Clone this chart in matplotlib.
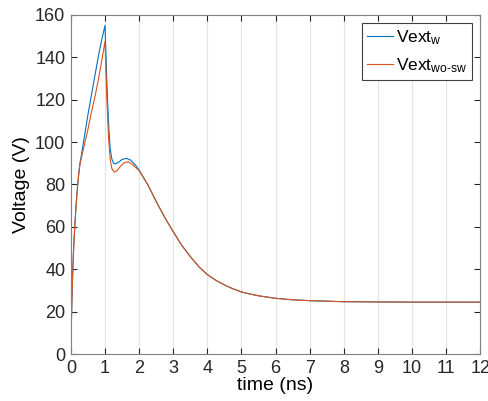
import matplotlib
matplotlib.use("Agg")
import matplotlib.pyplot as plt

plt.rcParams['font.family'] = ['Liberation Sans', 'DejaVu Sans']
plt.rcParams['mathtext.fontset'] = 'custom'
plt.rcParams['mathtext.rm'] = 'Liberation Sans'
plt.rcParams['mathtext.it'] = 'Liberation Sans'

# time (ns) and voltage (V)
t_w = [0, 0.01, 0.03, 0.05, 0.08, 0.12, 0.16, 0.2, 0.24, 0.27, 0.3, 0.4, 0.5,
       0.6, 0.7, 0.8, 0.9, 1.0, 1.05, 1.1, 1.15, 1.2, 1.25, 1.3, 1.4, 1.5,
       1.63, 1.75, 1.9, 2.0, 2.25, 2.5, 2.75, 3.0, 3.25, 3.5, 3.75, 4.0, 4.25,
       4.5, 4.75, 5.0, 5.25, 5.5, 6.0, 6.5, 7.0, 8.0, 9.0, 10.0, 11.0, 12.0]
v_w = [0, 12, 26, 37, 50, 62, 72, 80, 86.5, 90.5, 93, 103, 113,
       122, 131, 140, 148, 155, 130, 110, 97, 92, 90, 89.7, 90.5, 91.8,
       92.3, 91.5, 89, 86.8, 80, 72, 64.5, 57.7, 51.3, 46, 41.2, 37.5, 34.8,
       32.6, 30.8, 29.3, 28.3, 27.5, 26.3, 25.6, 25.2, 24.7, 24.6, 24.5, 24.5, 24.5]

t_wo = [0, 0.01, 0.03, 0.05, 0.08, 0.12, 0.16, 0.2, 0.24, 0.27, 0.3, 0.4, 0.5,
        0.6, 0.7, 0.8, 0.9, 1.0, 1.05, 1.1, 1.15, 1.2, 1.27, 1.35, 1.45, 1.55,
        1.68, 1.8, 1.9, 2.0, 2.25, 2.5, 2.75, 3.0, 3.25, 3.5, 3.75, 4.0, 4.25,
        4.5, 4.75, 5.0, 5.25, 5.5, 6.0, 6.5, 7.0, 8.0, 9.0, 10.0, 11.0, 12.0]
v_wo = [0, 12, 26, 37, 50, 62, 72, 80, 86.5, 90, 92, 99, 106,
        114, 121, 129, 138, 147.5, 122, 103, 92, 87.5, 85.8, 86.5, 88.5, 90.2,
        90.7, 89.5, 88, 86.5, 80, 72, 64.5, 57.7, 51.3, 46, 41.2, 37.5, 34.8,
        32.6, 30.8, 29.3, 28.3, 27.5, 26.3, 25.6, 25.2, 24.7, 24.6, 24.5, 24.5, 24.5]

fig = plt.figure(figsize=(4.89, 4.01), dpi=100)
ax = fig.add_axes([0.145, 0.117, 0.837, 0.846])

ax.plot(t_w, v_w, color='#0072BD', lw=0.8, label=r'Vext$_{\mathrm{w}}$')
ax.plot(t_wo, v_wo, color='#D95319', lw=0.8, label=r'Vext$_{\mathrm{wo\text{-}sw}}$')

ax.set_xlim(0, 12)
ax.set_ylim(0, 160)
ax.set_xticks(range(0, 13))
ax.set_yticks(range(0, 161, 20))
ax.xaxis.grid(True, color='#e3e3e3', lw=0.8)
ax.set_axisbelow(True)
ax.tick_params(direction='in', top=True, right=True, labelsize=13,
               colors='#262626', length=4, pad=4)
for s in ax.spines.values():
    s.set_color('#808080')
ax.set_xlabel('time (ns)', fontsize=14, labelpad=0)
ax.set_ylabel('Voltage (V)', fontsize=14, labelpad=4)

leg = ax.legend(loc='upper right', fontsize=12.5, handlelength=1.5,
                fancybox=False, framealpha=1, borderpad=0.3,
                labelspacing=0.55, handletextpad=0.15, borderaxespad=0.45)
leg.get_frame().set_edgecolor('#404040')
leg.get_frame().set_linewidth(0.8)

fig.savefig('out.png', dpi=100)
